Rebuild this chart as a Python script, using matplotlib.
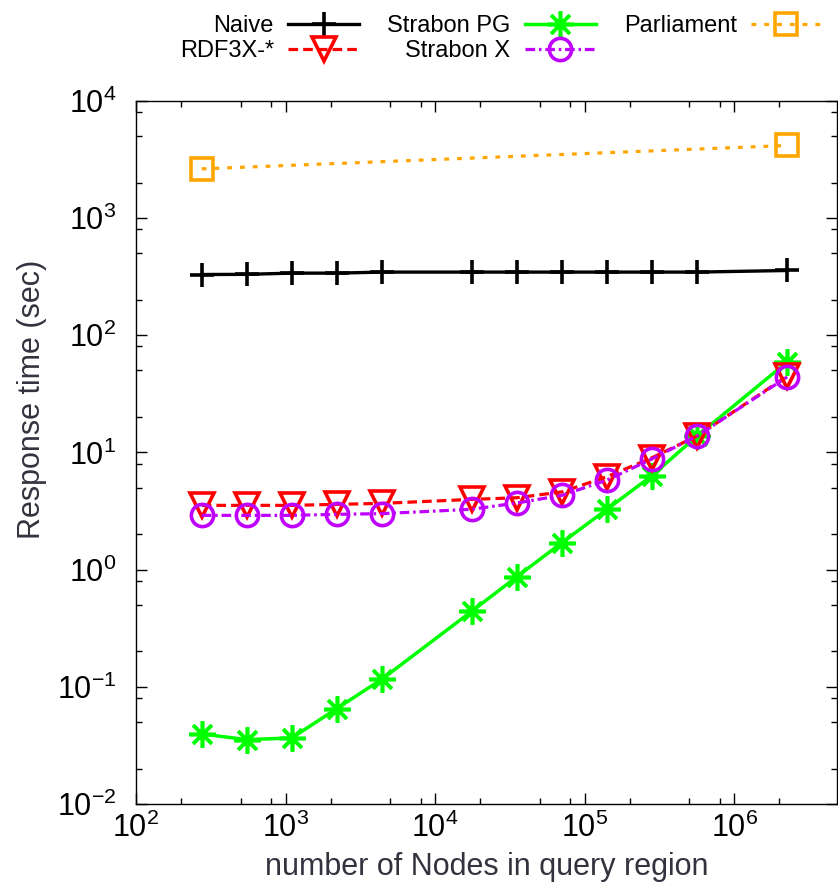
import matplotlib
matplotlib.use("Agg")
import matplotlib.pyplot as plt
from matplotlib import font_manager
from matplotlib.ticker import LogLocator, NullFormatter

# data
nodes = [275, 550, 1100, 2200, 4400, 17600, 35200, 70400, 140800, 281600, 563200, 2252800]
naive = [329, 330, 338, 338, 345, 345, 345, 345, 345, 345, 345, 356]
rdf3x = [3.53, 3.53, 3.53, 3.6, 3.67, 3.97, 4.1, 4.6, 6.2, 9.0, 13.8, 44.7]
strabon_pg = [0.0396, 0.0354, 0.0366, 0.0652, 0.116, 0.442, 0.87, 1.70, 3.27, 6.34, 13.8, 59]
strabon_x = [2.90, 2.90, 2.90, 2.96, 3.0, 3.27, 3.7, 4.3, 5.8, 8.8, 13.8, 44.0]
parl_nodes = [275, 2252800]
parliament = [2620, 4150]

try:
    font_manager.findfont("Liberation Sans Narrow", fallback_to_default=False)
    main_font = ["Liberation Sans Narrow", "Liberation Sans", "DejaVu Sans"]
    tick_size, label_size = 26, 25
except ValueError:
    main_font = ["Liberation Sans", "DejaVu Sans"]
    tick_size, label_size = 22, 22

plt.rcParams['font.family'] = main_font
plt.rcParams['mathtext.fontset'] = 'custom'
plt.rcParams['mathtext.rm'] = main_font[0]
plt.rcParams['axes.unicode_minus'] = False

fig = plt.figure(figsize=(8.38, 8.92), dpi=100)
ax = fig.add_axes([136 / 838, 1 - 804 / 892, 701 / 838, 703.3 / 892])

ax.plot(nodes, naive, color="black", lw=2.4, marker="+", ms=17, mew=2.6,
        label="Naive", zorder=3)
ax.plot(nodes, rdf3x, color="#ff0000", lw=2.3, dashes=(3, 1.6), marker="v", ms=17,
        mfc="none", mew=2.6, label="RDF3X-*", zorder=4)
ax.plot(nodes, strabon_pg, color="#00ff00", lw=2.5, marker=(8, 2, 0), ms=19, mew=2.6,
        label="Strabon PG", zorder=3)
ax.plot(nodes, strabon_x, color="#c000ff", lw=2.3, dashes=(3, 1.2, 0.8, 1.2), marker="o",
        ms=16, mfc="none", mew=2.6, label="Strabon X", zorder=5)
ax.plot(parl_nodes, parliament, color="#ffa500", lw=2.3, dashes=(1.5, 2.5), marker="s",
        ms=16, mfc="none", mew=2.6, label="Parliament", zorder=3)

ax.set_xscale("log")
ax.set_yscale("log")
ax.set_xlim(100, 4.85e6)
ax.set_ylim(1e-2, 1e4)

for axis in (ax.xaxis, ax.yaxis):
    axis.set_major_locator(LogLocator(base=10, numticks=20))
    axis.set_minor_locator(LogLocator(base=10, subs=(2, 5, 8), numticks=20))
    axis.set_minor_formatter(NullFormatter())

ax.tick_params(which="both", direction="in", top=True, right=True, width=1.0)
ax.tick_params(which="major", length=8)
ax.tick_params(which="minor", length=4)
ax.tick_params(axis="y", which="major", labelsize=tick_size, pad=14)
ax.tick_params(axis="x", which="major", labelsize=tick_size, pad=6)
for sp in ax.spines.values():
    sp.set_linewidth(1.0)

ax.set_xlabel("number of Nodes in query region", fontsize=label_size, color="#333340")
ax.set_ylabel("Response time (sec)", fontsize=label_size, color="#333340")
ax.xaxis.set_label_coords(0.5, -0.068)
ax.yaxis.set_label_coords(-0.127, 0.575)

ax.legend(loc="upper left", bbox_to_anchor=(168 / 838, 1 - 3 / 892),
          bbox_transform=fig.transFigure, ncol=3, markerfirst=False, frameon=False,
          borderpad=0, handlelength=3.0, handletextpad=0.6, columnspacing=1.2,
          labelspacing=0.15, prop={"family": ["Liberation Sans", "DejaVu Sans"], "size": 17})

fig.savefig("out.png", dpi=100)
